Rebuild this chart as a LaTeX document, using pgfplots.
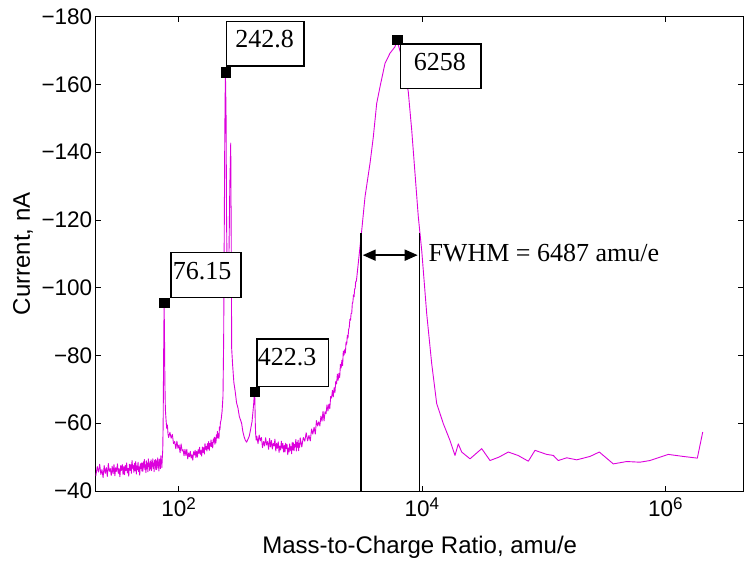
\documentclass[border=0pt]{standalone}
\usepackage{fontspec}
\setmainfont{Liberation Sans}
\newfontfamily\timesfont{Liberation Serif}
\usepackage{pgfplots}
\usepackage{pgfplotstable}
\pgfplotsset{compat=1.18}
\usetikzlibrary{arrows.meta}
\definecolor{specmag}{RGB}{220,0,220}
\newcommand\tsup[1]{\raisebox{7bp}{\fontsize{17bp}{17bp}\selectfont #1}}

\pgfplotstableread{
x y
20.9 -44.4
21.5 -47.2
22.0 -45.6
22.5 -47.9
23.0 -44.9
23.5 -46.3
24.0 -44.0
24.5 -47.5
25.0 -45.2
25.5 -46.9
26.0 -44.3
26.5 -48.1
27.0 -45.8
27.5 -46.6
28.0 -44.6
28.5 -47.3
29.0 -45.1
29.5 -47.8
30.0 -44.5
30.5 -46.9
31.0 -45.8
31.5 -48.0
32.0 -45.2
32.5 -46.6
33.0 -44.2
33.5 -47.5
34.0 -46.1
34.5 -47.8
35.0 -44.9
35.5 -47.2
36.0 -44.8
36.5 -47.6
37.0 -46.0
37.5 -48.3
38.0 -45.3
38.5 -46.7
39.0 -44.4
39.5 -47.9
40.0 -46.1
40.5 -47.8
41.0 -45.2
41.5 -49.0
42.0 -46.7
42.5 -47.5
43.0 -45.5
43.5 -48.2
44.0 -46.0
44.5 -48.7
45.0 -45.0
45.5 -47.4
46.0 -46.3
46.5 -48.5
47.0 -45.7
47.5 -47.1
48.0 -44.7
48.5 -48.0
49.0 -46.6
49.5 -48.3
50.0 -45.9
50.5 -48.2
51.0 -45.8
51.5 -48.6
52.0 -47.0
52.5 -49.3
53.0 -46.3
53.5 -47.7
54.0 -45.4
54.5 -48.9
55.0 -46.6
55.5 -48.3
56.0 -45.7
56.5 -49.5
57.0 -47.2
57.5 -48.0
58.0 -46.0
58.5 -48.7
59.0 -46.5
59.5 -49.2
60.0 -46.0
60.5 -48.4
61.0 -47.3
61.5 -49.5
62.0 -46.7
62.5 -48.1
63.0 -45.7
63.5 -49.0
64.0 -47.6
64.5 -49.3
65.0 -46.4
65.5 -48.7
66.0 -46.3
66.5 -49.1
67.0 -47.5
67.5 -49.8
68.0 -46.8
68.5 -48.2
69.0 -45.9
69.5 -49.4
70.0 -47.5
70.5 -49.2
71.0 -46.6
71.5 -50.4
72.0 -48.1
72.5 -48.9
73.0 -46.9
73.5 -49.6
74.2 -52
74.8 -60
75.4 -78
76.15 -95.6
76.7 -86
77.3 -72
78.0 -64
79.0 -61
80.0 -58.5
81.0 -59.5
82.0 -56.8
83 -55.8
85 -57.3
87 -55.6
89 -56.7
91 -54.0
93 -54.6
95 -52.5
97 -54.7
99 -52.6
101 -53.6
103 -51.3
105 -53.9
107 -51.8
109 -52.2
111 -50.4
113 -52.3
115 -50.5
117 -52.3
119 -49.5
121 -51.2
123 -50.1
125 -51.7
127 -49.7
129 -50.7
131 -49.1
133 -51.6
135 -50.6
137 -52.0
139 -49.9
141 -51.7
143 -50.0
145 -52.2
147 -51.1
149 -52.9
151 -50.8
153 -51.9
155 -50.3
157 -53.0
159 -51.4
161 -52.8
163 -50.9
165 -54.0
167 -52.3
169 -53.2
171 -51.8
173 -54.0
175 -52.4
177 -54.6
179 -52.0
181 -54.0
183 -53.2
185 -55.1
187 -53.1
189 -54.3
191 -52.7
193 -55.3
195 -54.4
197 -55.9
199 -53.8
201 -55.7
203 -54.2
205 -56.6
207 -55.6
209 -57.6
211 -55.7
213 -56.9
215 -55.5
217 -58.9
219 -58.1
221 -60.2
224 -61
228 -63.5
232 -68
235 -85
237.5 -115
240 -145
242.8 -163.6
244.5 -157
246 -150
248 -122
251 -102
255 -97
259 -106
264 -130
268.6 -142.7
271 -115
273.5 -82
278 -77.5
285 -72
292 -69.5
300 -66
308 -64.5
316 -62
323 -61
330 -60
338 -57.5
346 -56
354 -55
363 -54.4
372 -55.3
380 -56
388 -57.5
395 -59
402 -60.5
408 -63
413 -65
417 -67
422.3 -69.4
425 -65
428 -59
431 -56.5
435 -55
440 -56.2
450 -54.0
460 -56.5
470 -54.8
480 -55.8
490 -52.8
500 -54.6
510 -53.3
520 -55.7
530 -53.6
540 -54.6
550 -52.3
560 -55.5
570 -53.0
580 -54.9
590 -52.4
600 -54.1
610 -53.3
620 -55.3
630 -51.8
640 -54.1
650 -52.6
660 -54.5
670 -51.4
680 -53.3
690 -52.1
700 -54.7
710 -52.6
720 -54.0
730 -51.5
740 -53.5
750 -51.5
760 -54.1
770 -52.5
780 -53.7
790 -50.7
800 -52.7
810 -51.5
820 -53.9
830 -52.0
840 -53.1
850 -51.0
860 -54.4
870 -52.1
880 -54.2
890 -51.9
900 -53.8
910 -53.0
920 -55.2
930 -51.8
940 -54.3
950 -52.9
960 -55.0
970 -51.9
980 -54.0
990 -52.9
1000 -55.7
1030 -53.0
1060 -55.8
1090 -54.7
1120 -57.2
1150 -54.8
1180 -56.4
1210 -54.8
1240 -58.3
1270 -56.8
1300 -58.8
1330 -56.8
1360 -60.8
1390 -59.2
1420 -60.4
1450 -59.2
1480 -62.1
1510 -60.6
1540 -63.5
1570 -60.7
1600 -63.4
1630 -62.8
1660 -65.4
1690 -63.6
1720 -65.6
1750 -64.3
1780 -67.9
1810 -67.4
1840 -69.7
1870 -67.8
1900 -70.5
1930 -69.1
1960 -72.4
1990 -71.6
2020 -74.5
2050 -72.7
2080 -74.7
2110 -73.5
2140 -77.4
2170 -76.3
2200 -78.6
2230 -77.0
2260 -81.3
2290 -80.1
2320 -81.7
2350 -80.7
2380 -83.9
2410 -83.3
2440 -86.0
2470 -85.2
2500 -87.7
2530 -88.3
2560 -90.7
2590 -90.4
2620 -92.4
2650 -92.4
2680 -95.3
2710 -95.8
2740 -97.9
2770 -97.3
2800 -99.6
2830 -99.8
2860 -101.8
2890 -101.9
2912 -102.8
3202 -116.9
3408 -126.8
3746 -136.7
3988 -144.5
4252 -154.4
4526 -159.3
4975 -166.2
5469 -169.2
6012 -171.1
6258 -173.3
6400 -171.6
7036 -166.5
7730 -157.8
8246 -146.5
8777 -133.7
9341 -120.9
9963 -111.0
10953 -92.3
12034 -77.6
13231 -65.8
14987 -59.9
17017 -54.9
18707 -50.5
19913 -53.9
21232 -51.5
24849 -49.5
30998 -52.5
36281 -49.0
43000 -50.0
51280 -51.5
61600 -50.5
74880 -48.8
84990 -52.0
106052 -50.8
120130 -50.5
132100 -49.0
154840 -49.8
187070 -49.2
240600 -50.2
286900 -51.5
373900 -48.0
481800 -48.7
619700 -48.5
748700 -49.0
1058000 -50.8
1406000 -50.2
1833000 -49.7
2030000 -57.4
}\spectrum

\tikzset{
  annbox/.style={draw=black, fill=white, line width=1.3bp, inner sep=0pt},
  anntext/.style={anchor=base west, inner sep=0pt, font=\timesfont\fontsize{26bp}{30bp}\selectfont}
}

\begin{document}
\begin{tikzpicture}
\useasboundingbox (-95.7bp,-70bp) rectangle (649.3bp,491bp);
\begin{axis}[
  at={(0,0)}, anchor=south west, scale only axis,
  width=648bp, height=474.4bp,
  xmode=log, xmin=20.87, xmax=4.408e6,
  ymin=-180, ymax=-40, y dir=reverse,
  xtick={100,10000,1000000},
  xticklabels={10\tsup{2},10\tsup{4},10\tsup{6}},
  ytick={-180,-160,-140,-120,-100,-80,-60,-40},
  yticklabels={−180,−160,−140,−120,−100,−80,−60,−40},
  xminorticks=false, yminorticks=false,
  tick align=inside, major tick length=5.5bp,
  tick style={black, line width=0.8bp},
  axis line style={black, line width=0.8bp},
  ticklabel style={font=\fontsize{22.5bp}{26bp}\selectfont},
  xticklabel style={anchor=base, yshift=-25.7bp},
  xlabel={Mass-to-Charge Ratio, amu/e},
  ylabel={Current, nA},
  label style={font=\fontsize{24bp}{28bp}\selectfont},
  xlabel style={at={(axis description cs:0.5,-0.1313)}, anchor=base},
  ylabel style={at={(axis description cs:-0.10166,0.5)}, anchor=base},
]
\addplot[specmag, line width=0.9bp, line join=round] table[x=x, y=y] {\spectrum};
\addplot[black, line width=1.6bp] coordinates {(3141,-40) (3141,-116)};
\addplot[black, line width=1.6bp] coordinates {(9531,-40) (9531,-116)};
\addplot[black, line width=1.8bp, {Triangle[length=13bp,width=11bp]}-{Triangle[length=13bp,width=11bp]}] coordinates {(3263,-109.6) (9237,-109.6)};
\node[anntext] at (axis cs:11290,-107.6) {FWHM = 6487 amu/e};

\node[annbox, anchor=south west, minimum width=70bp, minimum height=44.7bp] (b1) at ([xshift=6.3bp,yshift=4.6bp]axis cs:76.15,-95.6) {};
\node[anntext] at ([xshift=2.3bp,yshift=-27bp]b1.north west) {76.15};
\node[annbox, anchor=south west, minimum width=77.3bp, minimum height=44.6bp] (b2) at ([xshift=0.7bp,yshift=5.5bp]axis cs:242.8,-163.6) {};
\node[anntext] at ([xshift=9bp,yshift=-27bp]b2.north west) {242.8};
\node[annbox, anchor=south west, minimum width=71.7bp, minimum height=47.4bp] (b3) at ([xshift=1.7bp,yshift=4.3bp]axis cs:422.3,-69.4) {};
\node[anntext] at ([xshift=1.3bp,yshift=-27bp]b3.north west) {422.3};
\node[annbox, anchor=north west, minimum width=80.7bp, minimum height=44.4bp] (b4) at ([xshift=2.6bp,yshift=-4bp]axis cs:6258,-173.3) {};
\node[anntext] at ([xshift=14bp,yshift=-27bp]b4.north west) {6258};

\addplot[only marks, mark=square*, mark size=4.6bp, black] coordinates {(76.15,-95.6) (242.8,-163.6) (422.3,-69.4) (6258,-173.3)};
\end{axis}
\end{tikzpicture}
\end{document}
